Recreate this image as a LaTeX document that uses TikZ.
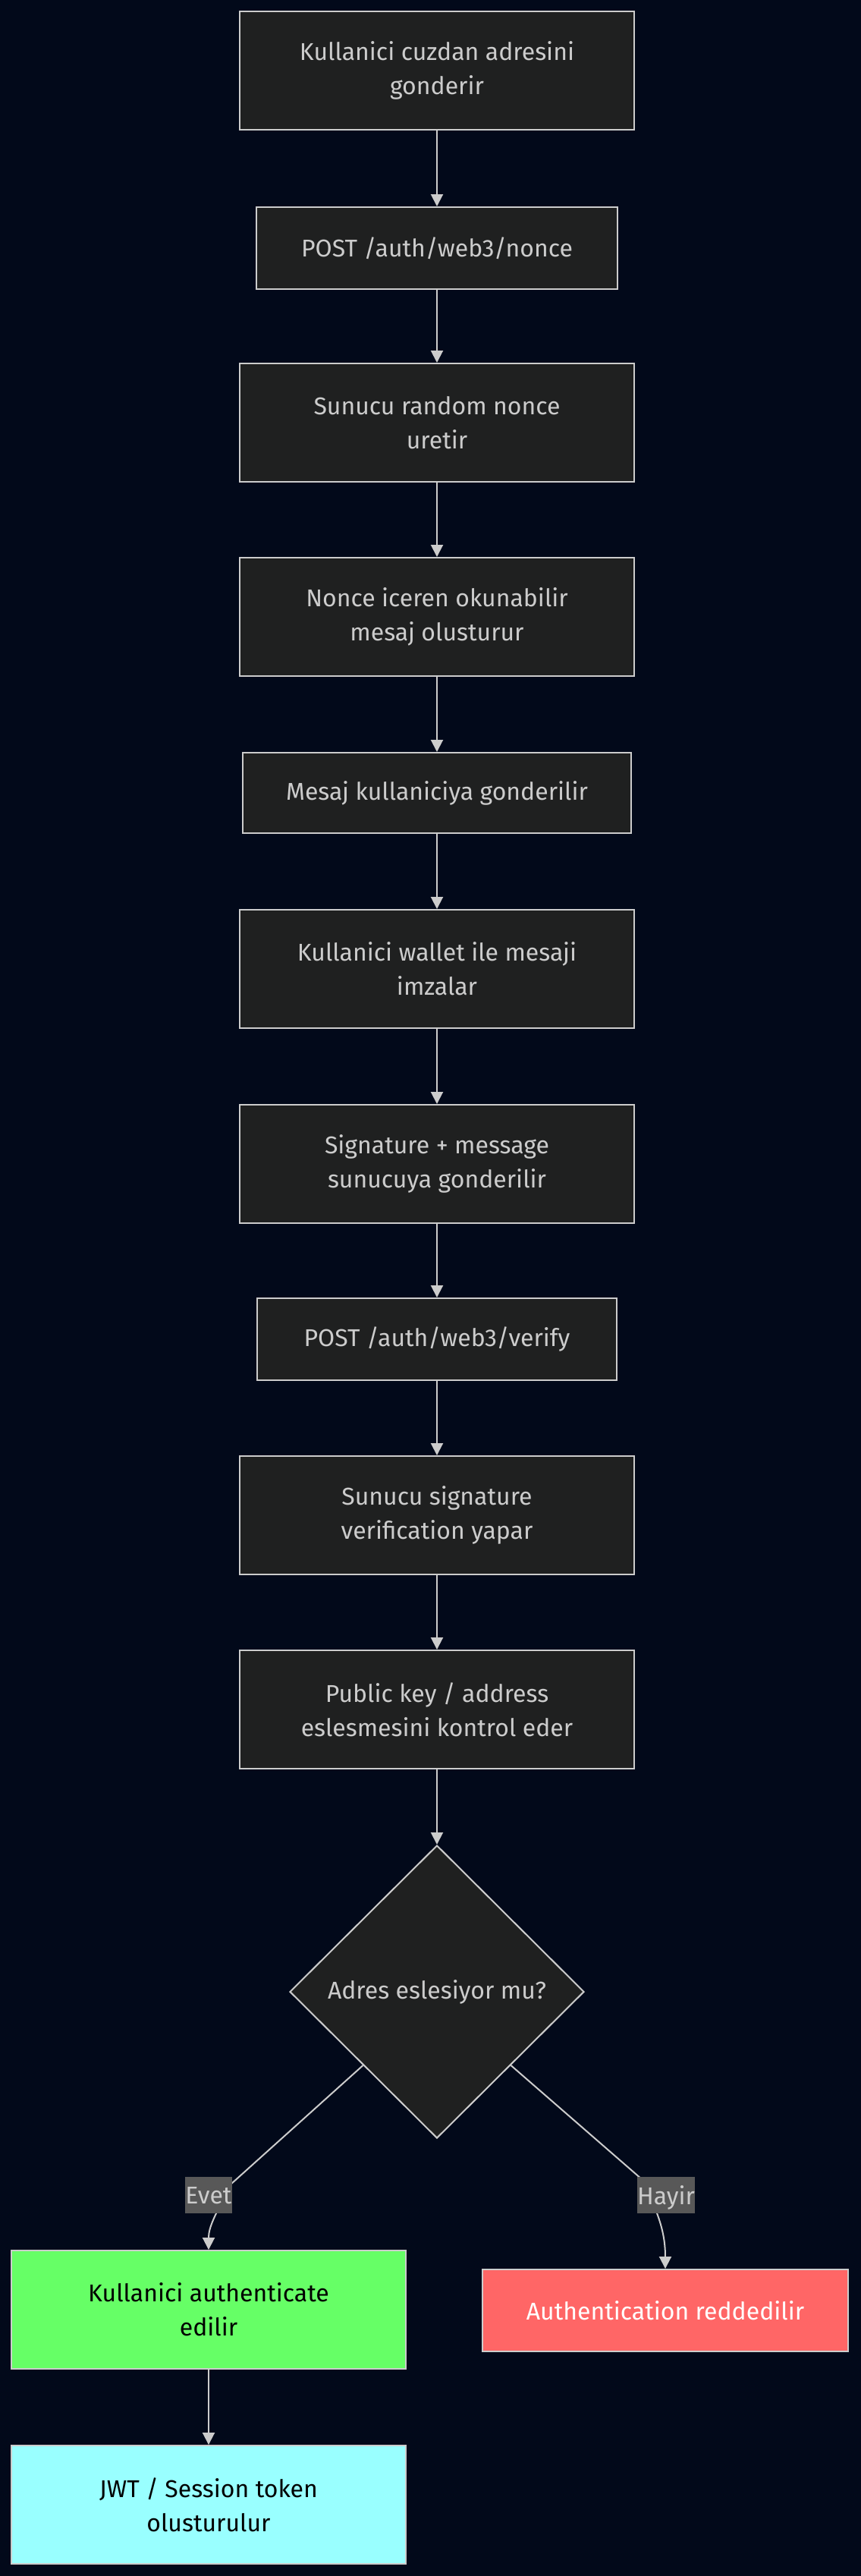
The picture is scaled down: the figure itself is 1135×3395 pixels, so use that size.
\documentclass[tikz,border=0pt]{standalone}
\usepackage{fontspec}
\setmainfont{Fira Sans}
\usetikzlibrary{shapes.geometric,arrows.meta}
\definecolor{bgc}{RGB}{2,9,26}
\definecolor{boxc}{HTML}{1F2020}
\definecolor{linec}{HTML}{CCCCCC}
\definecolor{txtc}{HTML}{CCCCCC}
\definecolor{lblc}{HTML}{585858}
\definecolor{greenc}{HTML}{66FF66}
\definecolor{redc}{HTML}{FF6666}
\definecolor{cyanc}{HTML}{99FFFF}
\tikzset{
  stepbox/.style={draw=linec, line width=1pt, fill=boxc, text=txtc, align=center,
    font=\fontsize{16pt}{22.5pt}\selectfont, inner sep=0pt,
    minimum width=260pt, minimum height=78pt},
  shortbox/.style={stepbox, minimum width=238pt, minimum height=54pt},
  decide/.style={shape=diamond, draw=linec, line width=1pt, fill=boxc, text=txtc,
    font=\fontsize{16pt}{22.5pt}\selectfont, inner sep=0pt,
    minimum width=194pt, minimum height=193pt},
  edge/.style={draw=linec, line width=1pt, -{Triangle[length=8pt,width=8pt]}},
  elabel/.style={fill=lblc, text=txtc, font=\fontsize{16pt}{20pt}\selectfont,
    inner sep=0pt, minimum height=24pt, text depth=0pt},
}
\begin{document}
\begin{tikzpicture}[x=0.5pt,y=-0.5pt]
\fill[bgc] (0,0) rectangle (1135,3395);
\useasboundingbox (0,0) rectangle (1135,3395);

\node[stepbox] (n1) at (576,93) {Kullanici cuzdan adresini\\gonderir};
\node[shortbox] (n2) at (576,327) {POST /auth/web3/nonce};
\node[stepbox] (n3) at (576,557) {Sunucu random nonce\\uretir};
\node[stepbox] (n4) at (576,813) {Nonce iceren okunabilir\\mesaj olusturur};
\node[stepbox, minimum width=256pt, minimum height=53pt] (n5) at (576,1045) {Mesaj kullaniciya gonderilir};
\node[stepbox] (n6) at (576,1277) {Kullanici wallet ile mesaji\\imzalar};
\node[stepbox] (n7) at (576,1534) {Signature + message\\sunucuya gonderilir};
\node[shortbox, minimum width=237pt] (n8) at (576,1765) {POST /auth/web3/verify};
\node[stepbox] (n9) at (576,1997) {Sunucu signature\\verification yapar};
\node[stepbox] (n10) at (576,2253) {Public key / address\\eslesmesini kontrol eder};
\node[decide] (dia) at (576,2625) {Adres eslesiyor mu?};
\node[stepbox, fill=greenc, text=black] (ok) at (275,3044) {Kullanici authenticate\\edilir};
\node[stepbox, fill=redc, text=white, minimum width=241pt, minimum height=54pt] (no) at (877,3045) {Authentication reddedilir};
\node[stepbox, fill=cyanc, text=black] (tok) at (275,3301) {JWT / Session token\\olusturulur};

\draw[edge] (n1) -- (n2);
\draw[edge] (n2) -- (n3);
\draw[edge] (n3) -- (n4);
\draw[edge] (n4) -- (n5);
\draw[edge] (n5) -- (n6);
\draw[edge] (n6) -- (n7);
\draw[edge] (n7) -- (n8);
\draw[edge] (n8) -- (n9);
\draw[edge] (n9) -- (n10);
\draw[edge] (n10) -- (dia);
\draw[edge] (ok) -- (tok);

\coordinate (e1) at (305,2878);
\coordinate (e2) at (846,2872);
\draw[edge] (dia.south west) -- (e1) .. controls (283,2920) and (275,2935) .. (ok.north);
\draw[edge] (dia.south east) -- (e2) .. controls (870,2920) and (877,2945) .. (no.north);

\node[elabel, minimum width=30.5pt] (evet) at (275,2893) {Evet};
\node[elabel, minimum width=38pt] (hayir) at (878,2893) {Hayir};
\end{tikzpicture}
\end{document}
